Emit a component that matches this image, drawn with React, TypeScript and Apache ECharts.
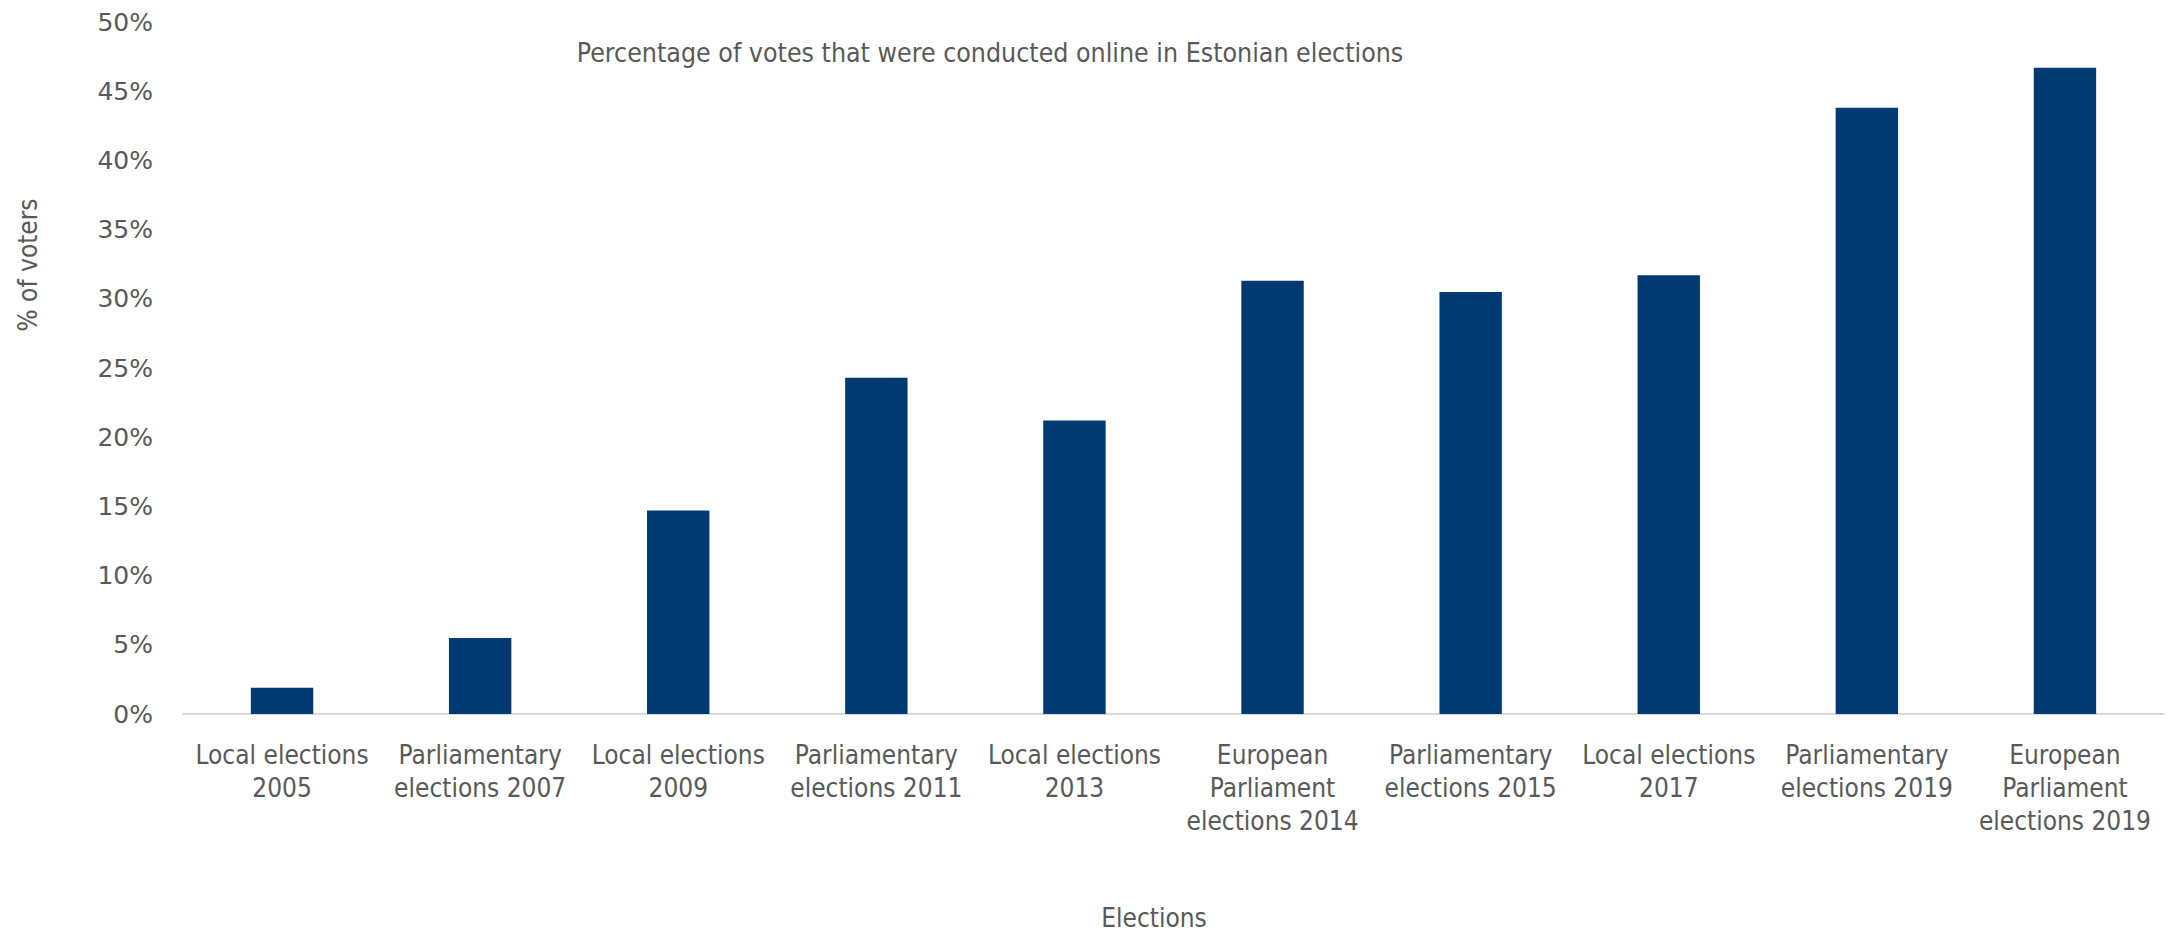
import React, { useEffect, useRef } from "react";
import * as echarts from "echarts";

const categories = [
  "Local elections\n2005",
  "Parliamentary\nelections 2007",
  "Local elections\n2009",
  "Parliamentary\nelections 2011",
  "Local elections\n2013",
  "European\nParliament\nelections 2014",
  "Parliamentary\nelections 2015",
  "Local elections\n2017",
  "Parliamentary\nelections 2019",
  "European\nParliament\nelections 2019",
];
const onlineShare = [1.9, 5.5, 14.7, 24.3, 21.2, 31.3, 30.5, 31.7, 43.8, 46.7];
const titleText = "Percentage of votes that were conducted online in Estonian elections";
const yAxisTitle = "% of voters";
const xAxisTitle = "Elections";

const NARROW = "'Liberation Sans Narrow', 'DejaVu Sans Condensed', sans-serif";
const WIDE = "'DejaVu Sans', Verdana, sans-serif";
const TEXT = "#595959";

export default function App() {
  const ref = useRef<HTMLDivElement>(null);
  useEffect(() => {
    if (!ref.current) return;
    const chart = echarts.init(ref.current, null, { renderer: "svg" });
    chart.setOption({
      animation: false,
      backgroundColor: "#ffffff",
      title: {
        text: titleText,
        left: 985,
        top: 34,
        textAlign: "center",
        textStyle: { fontFamily: NARROW, fontSize: 26.5, fontWeight: "normal", color: TEXT },
      },
      grid: { left: 183, right: 11, top: 22, bottom: 218, containLabel: false },
      xAxis: {
        type: "category",
        data: categories,
        axisLine: { lineStyle: { color: "#D9D9D9", width: 2 } },
        axisTick: { show: false },
        axisLabel: {
          interval: 0,
          margin: 24,
          fontFamily: NARROW,
          fontSize: 26,
          lineHeight: 33,
          color: TEXT,
        },
      },
      yAxis: {
        type: "value",
        min: 0,
        max: 50,
        interval: 5,
        splitLine: { show: false },
        axisLine: { show: false },
        axisTick: { show: false },
        axisLabel: {
          formatter: "{value}%",
          margin: 30,
          fontFamily: WIDE,
          fontSize: 25,
          color: TEXT,
        },
      },
      series: [
        {
          type: "bar",
          data: onlineShare,
          barWidth: "31.5%",
          itemStyle: { color: "#003A70" },
        },
      ],
      graphic: [
        {
          type: "text",
          x: 28,
          y: 265,
          rotation: Math.PI / 2,
          style: {
            text: yAxisTitle,
            fontFamily: NARROW,
            fontSize: 26,
            fill: TEXT,
            align: "center",
            verticalAlign: "middle",
          },
        },
        {
          type: "text",
          x: 1154,
          y: 918,
          style: {
            text: xAxisTitle,
            fontFamily: NARROW,
            fontSize: 26,
            fill: TEXT,
            align: "center",
            verticalAlign: "middle",
          },
        },
      ],
    });
    return () => chart.dispose();
  }, []);
  return <div ref={ref} style={{ width: 2175, height: 932, position: "absolute", left: 0, top: 0 }} />;
}
